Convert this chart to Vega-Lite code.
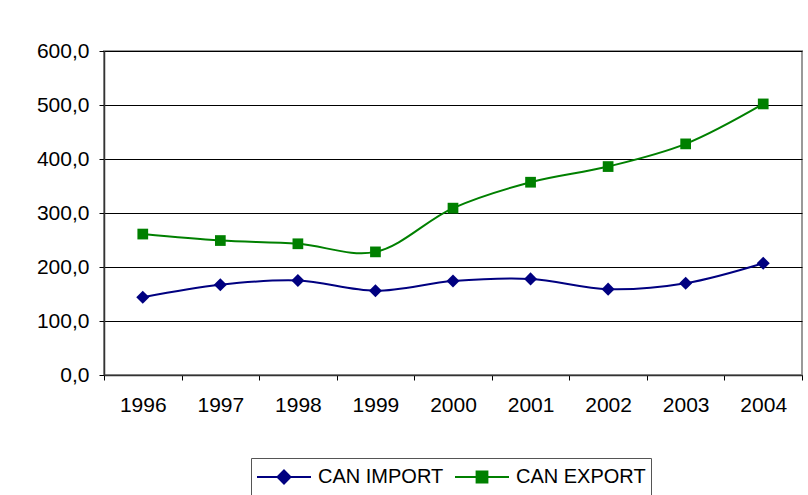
{
  "$schema": "https://vega.github.io/schema/vega-lite/v6.json",
  "width": 698,
  "height": 324,
  "autosize": {"type": "none"},
  "padding": {"left": 104, "top": 51, "right": 6, "bottom": 120},
  "background": "white",
  "config": {
    "font": "Liberation Sans",
    "view": {"stroke": "#999999", "strokeWidth": 2},
    "axis": {
      "labelFont": "Liberation Sans",
      "labelFontSize": 21,
      "labelColor": "#000000",
      "tickColor": "#000000",
      "tickSize": 5,
      "domainColor": "#333333",
      "domainWidth": 1.5,
      "title": null
    }
  },
  "data": {
    "values": [
      {"year": "1996", "series": "CAN IMPORT", "value": 144},
      {"year": "1997", "series": "CAN IMPORT", "value": 167},
      {"year": "1998", "series": "CAN IMPORT", "value": 175},
      {"year": "1999", "series": "CAN IMPORT", "value": 156},
      {"year": "2000", "series": "CAN IMPORT", "value": 174},
      {"year": "2001", "series": "CAN IMPORT", "value": 178},
      {"year": "2002", "series": "CAN IMPORT", "value": 159},
      {"year": "2003", "series": "CAN IMPORT", "value": 170},
      {"year": "2004", "series": "CAN IMPORT", "value": 207},
      {"year": "1996", "series": "CAN EXPORT", "value": 261},
      {"year": "1997", "series": "CAN EXPORT", "value": 249},
      {"year": "1998", "series": "CAN EXPORT", "value": 243},
      {"year": "1999", "series": "CAN EXPORT", "value": 228},
      {"year": "2000", "series": "CAN EXPORT", "value": 309},
      {"year": "2001", "series": "CAN EXPORT", "value": 357},
      {"year": "2002", "series": "CAN EXPORT", "value": 386},
      {"year": "2003", "series": "CAN EXPORT", "value": 428},
      {"year": "2004", "series": "CAN EXPORT", "value": 502}
    ]
  },
  "encoding": {
    "x": {
      "field": "year",
      "type": "ordinal",
      "scale": {"type": "band", "paddingInner": 0, "paddingOuter": 0},
      "axis": {"labelAngle": 0, "tickBand": "extent", "grid": false, "labelPadding": 14}
    },
    "y": {
      "field": "value",
      "type": "quantitative",
      "scale": {"domain": [0, 600], "nice": false, "zero": true},
      "axis": {
        "values": [0, 100, 200, 300, 400, 500, 600],
        "grid": true,
        "gridColor": "#000000",
        "gridWidth": 1,
        "gridOpacity": 1,
        "labelPadding": 10,
        "labelExpr": "replace(format(datum.value, '.1f'), '.', ',')"
      }
    },
    "color": {
      "field": "series",
      "type": "nominal",
      "scale": {"domain": ["CAN IMPORT", "CAN EXPORT"], "range": ["#000080", "#008000"]},
      "legend": {
        "orient": "none",
        "legendX": 147,
        "legendY": 407,
        "direction": "horizontal",
        "title": null,
        "strokeColor": "#555555",
        "fillColor": "#ffffff",
        "padding": 5,
        "symbolSize": 2916,
        "symbolStrokeWidth": 2,
        "symbolOffset": 0,
        "labelOffset": 6,
        "clipHeight": 28,
        "columnPadding": 10,
        "labelFont": "Liberation Sans",
        "labelFontSize": 20,
        "labelColor": "#000000",
        "labelLimit": 300,
        "symbolType": "M-1,0H1M0,-0.24L0.24,0L0,0.24L-0.24,0Z",
        "encode": {
          "symbols": {
            "update": {
              "shape": {"signal": "datum.value === 'CAN IMPORT' ? 'M-1,0H1M0,-0.24L0.24,0L0,0.24L-0.24,0Z' : 'M-1,0H1M-0.2,-0.2H0.2V0.2H-0.2Z'"},
              "fill": {"signal": "scale('color', datum.value)"},
              "stroke": {"signal": "scale('color', datum.value)"},
              "strokeWidth": {"value": 2},
              "opacity": {"value": 1}
            }
          }
        }
      }
    }
  },
  "layer": [
    {
      "mark": {"type": "line", "interpolate": "catmull-rom", "strokeWidth": 2}
    },
    {
      "transform": [{"filter": "datum.series === 'CAN IMPORT'"}],
      "mark": {"type": "point", "filled": true, "opacity": 1, "shape": "diamond", "size": 170}
    },
    {
      "transform": [{"filter": "datum.series === 'CAN EXPORT'"}],
      "mark": {"type": "point", "filled": true, "opacity": 1, "shape": "square", "size": 115}
    }
  ]
}
